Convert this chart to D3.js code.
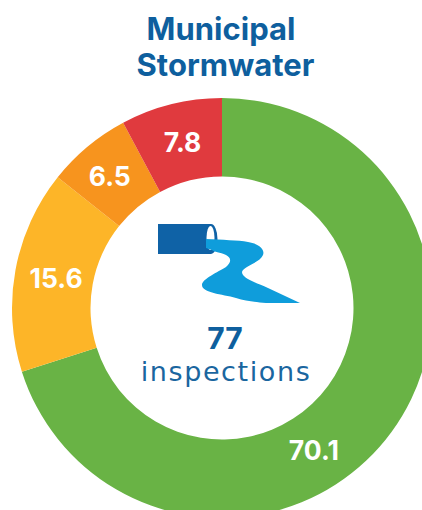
<!DOCTYPE html>
<html>
<head>
<meta charset="utf-8">
<script src="https://cdn.jsdelivr.net/npm/d3@7"></script>
<style>
html, body { margin: 0; padding: 0; background: #fff; overflow: hidden; }
text { font-family: Inter, "Open Sans", sans-serif; }
</style>
</head>
<body>
<div id="chart"></div>
<script>
var WIDTH = 422;
var HEIGHT = 510;

var categories = ['green', 'yellow', 'orange', 'red'];
var values = [70.1, 15.6, 6.5, 7.8];
var colors = ['#69b345', '#fdb528', '#f7941e', '#e03a3e'];
var titleLines = ['Municipal', 'Stormwater'];
var inspections = 77;

var cx = 222, cy = 308, outer = 210, inner = 131.5;

var svg = d3.select('#chart').append('svg')
	.attr('width', WIDTH)
	.attr('height', HEIGHT);

var pie = d3.pie().sort(null).value(function(d) { return d.value; });
var arc = d3.arc().innerRadius(inner).outerRadius(outer);

var slices = categories.map(function(c, i) {
	return { name: c, value: values[i], color: colors[i] };
});

var g = svg.append('g').attr('transform', 'translate(' + cx + ',' + cy + ')');

g.selectAll('path')
	.data(pie(slices))
	.enter().append('path')
	.attr('d', arc)
	.attr('fill', function(d) { return d.data.color; });

// label spots don't sit exactly on the ring centre in the original
var labelOffset = { green: [-46, 41], yellow: [2, 1], orange: [-3, -1], red: [2, 0] };

g.selectAll('text')
	.data(pie(slices))
	.enter().append('text')
	.attr('transform', function(d) {
		var c = arc.centroid(d), o = labelOffset[d.data.name];
		return 'translate(' + (c[0] + o[0]) + ',' + (c[1] + o[1]) + ')';
	})
	.attr('text-anchor', 'middle')
	.attr('dominant-baseline', 'central')
	.attr('fill', '#fff')
	.attr('font-size', 26.5)
	.attr('font-weight', 700)
	.text(function(d) { return d.data.value.toFixed(1); });

svg.selectAll('.title')
	.data(titleLines)
	.enter().append('text')
	.attr('class', 'title')
	.attr('x', function(d, i) { return i ? 225.5 : 221; })
	.attr('y', function(d, i) { return 40 + i * 36; })
	.attr('text-anchor', 'middle')
	.attr('fill', '#0e5f9e')
	.attr('font-size', 31)
	.attr('font-weight', 700)
	.text(function(d) { return d; });

// pipe + stream icon
var icon = svg.append('g');
icon.append('rect')
	.attr('x', 158).attr('y', 224).attr('width', 53).attr('height', 30)
	.attr('fill', '#0f62a6');
icon.append('ellipse')
	.attr('cx', 211).attr('cy', 239).attr('rx', 6.5).attr('ry', 15)
	.attr('fill', '#0f62a6');
icon.append('ellipse')
	.attr('cx', 210.5).attr('cy', 238).attr('rx', 4).attr('ry', 12)
	.attr('fill', '#fff');
icon.append('path')
	.attr('d', 'M206,239 C222,240 238,240 248,242 C260,244 265,250 263,255 C260,263 243,266 242,272 C242,278 254,282 268,288 L300,303 L266,303 C254,302 246,301 236,298 C222,294 202,293 202,285 C202,279 218,272 226,267 C231,263 232,258 226,255 C220,252 214,252 212,250 L206,248 Z')
	.attr('fill', '#0f9ddb');

svg.append('text')
	.attr('x', 225).attr('y', 349)
	.attr('text-anchor', 'middle')
	.attr('fill', '#0e5f9e')
	.attr('font-size', 30)
	.attr('font-weight', 700)
	.text(inspections);

svg.append('text')
	.attr('x', 226).attr('y', 381)
	.attr('text-anchor', 'middle')
	.attr('fill', '#1a669f')
	.style('font-family', '"DejaVu Sans", sans-serif')
	.attr('font-size', 27)
	.attr('font-weight', 400)
	.attr('letter-spacing', 1.6)
	.text('inspections');
</script>
</body>
</html>
